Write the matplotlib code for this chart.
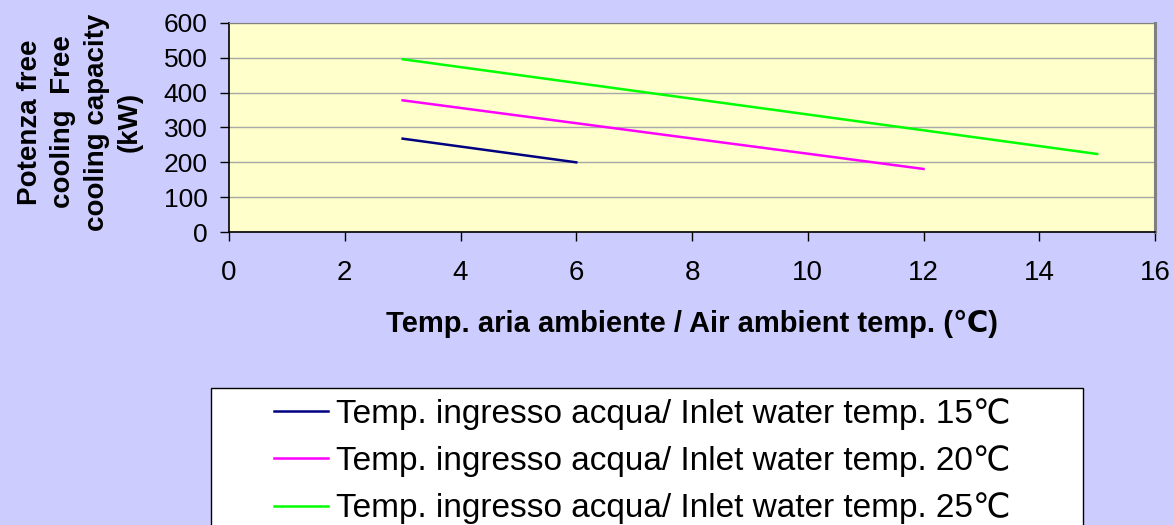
import matplotlib
matplotlib.use("Agg")
import matplotlib.pyplot as plt
from matplotlib.patches import Rectangle

plt.rcParams['font.family'] = ['Liberation Sans', 'DejaVu Sans']

# data
air_15 = [3, 6]
cap_15 = [268, 200]
air_20 = [3, 12]
cap_20 = [378, 181]
air_25 = [3, 15]
cap_25 = [496, 224]
labels = ["Temp. ingresso acqua/ Inlet water temp. 15℃",
          "Temp. ingresso acqua/ Inlet water temp. 20℃",
          "Temp. ingresso acqua/ Inlet water temp. 25℃"]
xticks = list(range(0, 17, 2))
yticks = list(range(0, 601, 100))

W, H = 1174, 525
fig = plt.figure(figsize=(W/100, H/100), dpi=100, facecolor="#CCCCFF")
ax = fig.add_axes([229/W, 1-232/H, (1155-229)/W, (232-23)/H])
ax.set_facecolor("#FFFFCC")

l1, = ax.plot(air_15, cap_15, color="#000080", lw=1.8)
l2, = ax.plot(air_20, cap_20, color="#FF00FF", lw=1.8)
l3, = ax.plot(air_25, cap_25, color="#00FF00", lw=1.8)

ax.set_xlim(0, 16)
ax.set_ylim(0, 600)
ax.set_xticks(xticks)
ax.set_yticks(yticks)
ax.yaxis.grid(True, color="#A8A8A8", lw=1)
ax.set_axisbelow(True)
ax.tick_params(axis="both", direction="out", length=6.5, width=1, color="black")
ax.tick_params(axis="x", labelsize=20, pad=14)
ax.tick_params(axis="y", labelsize=19, pad=9)
for s in ["left", "bottom"]:
    ax.spines[s].set_color("black")
    ax.spines[s].set_linewidth(1.2)
for s in ["top", "right"]:
    ax.spines[s].set_color("#808080")
ax.spines["right"].set_linewidth(2.2)
ax.spines["top"].set_linewidth(0.8)

fig.text(692/W, 1-332/H, "Temp. aria ambiente / Air ambient temp. (℃)", fontsize=21,
         fontweight="bold", ha="center", va="baseline")
fig.text(80/W, 1-122/H, "Potenza free\ncooling  Free\ncooling capacity\n(kW)",
         rotation=90, ha="center", va="center", fontsize=20, fontweight="bold",
         linespacing=1.37, multialignment="center")

# legend box runs off the bottom edge like the original
fig.patches.append(Rectangle((211/W, -0.05), (1083-211)/W, 1-388/H+0.05,
                             transform=fig.transFigure, facecolor="white",
                             edgecolor="black", lw=1))
fig.legend([l1, l2, l3], labels, loc="upper left", frameon=False,
           bbox_to_anchor=(274/W, 1-398/H), fontsize=24, handlelength=1.62,
           handletextpad=0.24, labelspacing=0.46, borderaxespad=0, borderpad=0)

fig.savefig("out.png", dpi=100, facecolor=fig.get_facecolor())
